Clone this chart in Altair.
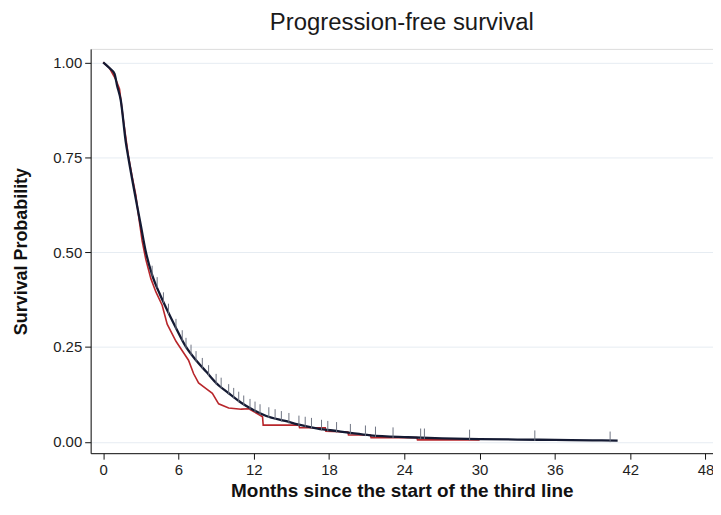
import altair as alt
import pandas as pd

# Black (dark navy) curve: months, survival
black_t = [0.0, 0.5, 0.9, 1.1, 1.4, 1.8, 2.0, 2.6, 3.0, 3.4, 3.9, 4.5, 5.0, 5.8, 6.6, 7.4, 8.2, 9.0,
           10.0, 11.0, 11.8, 13.0, 14.5, 15.6, 17.1, 18.7, 20.0, 21.3, 24.3, 27.0, 30.0, 33.0, 36.0, 39.0, 41.0]
black_s = [1.0, 0.985, 0.97, 0.94, 0.90, 0.79, 0.75, 0.64, 0.57, 0.50, 0.44, 0.39, 0.354, 0.30, 0.25, 0.215,
           0.185, 0.155, 0.128, 0.103, 0.087, 0.068, 0.055, 0.045, 0.035, 0.028, 0.022, 0.017, 0.012, 0.009,
           0.007, 0.006, 0.005, 0.004, 0.003]

# Red curve: months, survival
red_t = [0.0, 0.5, 1.0, 1.3, 1.6, 2.0, 2.3, 2.6, 2.8, 3.1, 3.4, 3.8, 4.2, 4.7, 5.1, 5.8, 6.3, 6.8, 7.2,
         7.6, 8.2, 8.7, 9.2, 10.0, 11.0, 11.6, 12.4, 12.7, 12.75, 15.6, 15.65, 17.7, 17.75, 19.5, 19.55,
         21.3, 21.35, 25.0, 25.05, 30.0]
red_s = [1.0, 0.985, 0.955, 0.93, 0.85, 0.755, 0.70, 0.65, 0.60, 0.53, 0.48, 0.43, 0.395, 0.36, 0.31, 0.265,
         0.24, 0.215, 0.18, 0.155, 0.14, 0.128, 0.10, 0.089, 0.086, 0.087, 0.072, 0.066, 0.044, 0.044, 0.037,
         0.037, 0.028, 0.026, 0.018, 0.018, 0.011, 0.011, 0.005, 0.005]

# Censoring marks on the black curve
cens_t = [3.9, 4.3, 4.8, 5.2, 5.8, 6.3, 6.6, 7.0, 7.4, 7.9, 8.4, 9.0, 9.4, 10.0, 10.4, 10.8, 11.2, 11.7, 12.1,
          12.5, 13.2, 13.7, 14.2, 14.8, 15.6, 16.1, 16.6, 17.4, 17.9, 18.6, 19.7, 20.9, 21.7, 23.1, 25.3,
          25.6, 29.2, 34.4, 40.4]
cens_s = [0.44, 0.41, 0.37, 0.34, 0.30, 0.27, 0.25, 0.232, 0.215, 0.197, 0.178, 0.155, 0.145, 0.128, 0.118, 0.108,
          0.098, 0.089, 0.082, 0.075, 0.067, 0.062, 0.057, 0.052, 0.045, 0.042, 0.039, 0.034, 0.031, 0.028,
          0.023, 0.019, 0.016, 0.014, 0.011, 0.011, 0.008, 0.006, 0.003]

x_ticks = [0, 6, 12, 18, 24, 30, 36, 42, 48]
y_ticks = [0.0, 0.25, 0.5, 0.75, 1.0]

black_df = pd.DataFrame({"t": black_t, "s": black_s, "i": range(len(black_t))})
red_df = pd.DataFrame({"t": red_t, "s": red_s, "i": range(len(red_t))})
cens_df = pd.DataFrame({"t": cens_t, "s": cens_s})
cens_df["top"] = cens_df["s"] + 0.024
cens_df["bot"] = cens_df["s"] - 0.004

FONT = "Liberation Sans"

xscale = alt.Scale(domain=[-1, 48.6], nice=False, zero=False)
yscale = alt.Scale(domain=[-0.03, 1.0355], nice=False, zero=False)

xaxis = alt.Axis(values=x_ticks, title="Months since the start of the third line", grid=False,
                 domainColor="#111111", tickColor="#111111", tickSize=6, labelFontSize=15,
                 labelColor="#1e1e1e", labelFont=FONT, labelPadding=3, titleFont=FONT,
                 titleFontSize=19, titleFontWeight="bold", titleColor="#111111", titlePadding=5)
yaxis = alt.Axis(values=y_ticks, format=".2f", title="Survival Probability", grid=True,
                 gridColor="#e6ecf2", gridWidth=1, domainColor="#111111", tickColor="#111111",
                 tickSize=6, labelFontSize=15, labelColor="#1e1e1e", labelFont=FONT, labelPadding=3,
                 titleFont=FONT, titleFontSize=18, titleFontWeight="bold", titleColor="#111111",
                 titlePadding=22)

red = alt.Chart(red_df).mark_line(color="#b8262b", strokeWidth=1.6).encode(
    x=alt.X("t:Q", scale=xscale, axis=xaxis),
    y=alt.Y("s:Q", scale=yscale, axis=yaxis),
    order="i:Q",
)
black = alt.Chart(black_df).mark_line(color="#141a33", strokeWidth=2.3, interpolate="monotone").encode(
    x=alt.X("t:Q", scale=xscale),
    y=alt.Y("s:Q", scale=yscale),
    order="i:Q",
)
ticks = alt.Chart(cens_df).mark_rule(color="#6f7482", strokeWidth=1).encode(
    x=alt.X("t:Q", scale=xscale),
    y=alt.Y("bot:Q", scale=yscale),
    y2="top:Q",
)

chart = alt.layer(red, black, ticks).properties(
    width=625,
    height=406,
    title=alt.TitleParams("Progression-free survival", font=FONT, fontSize=24, fontWeight="normal",
                          color="#1a1a1a", anchor="middle", offset=14),
    autosize=alt.AutoSizeParams(type="none"),
    padding={"left": 83, "top": 40, "right": 0, "bottom": 60},
).configure_view(stroke=None).configure(background="white")

chart.save("out.html", embed_options={"renderer": "svg", "actions": False})
